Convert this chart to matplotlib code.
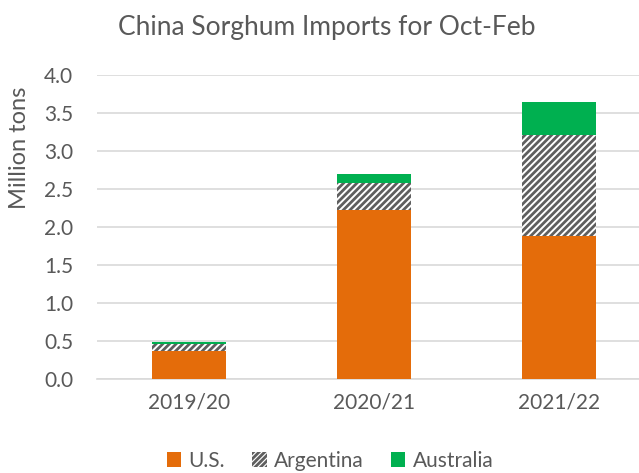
import numpy as np
import matplotlib
matplotlib.use("Agg")
import matplotlib.pyplot as plt
from matplotlib.patches import Patch

# data (million tons)
seasons = ["2019/20", "2020/21", "2021/22"]
us = [0.37, 2.23, 1.88]
argentina = [0.09, 0.35, 1.33]
australia = [0.03, 0.12, 0.43]

plt.rcParams["font.family"] = ["Lato", "DejaVu Sans"]
plt.rcParams["hatch.linewidth"] = 2.0
plt.rcParams["hatch.color"] = "#5f5f5f"

txt = "#595959"
orange = "#E46C0A"
green = "#00B050"

fig = plt.figure(figsize=(6.39, 4.73), dpi=100)
ax = fig.add_axes([97 / 639, 1 - 379 / 473, 554 / 639, 304 / 473])

x = np.arange(len(seasons))
w = 0.4
us = np.array(us)
arg = np.array(argentina)
aus = np.array(australia)

ax.bar(x, us, w, color=orange, zorder=3)
ax.bar(x, arg, w, bottom=us, color="white", hatch="/////", edgecolor="#5f5f5f",
       linewidth=0, zorder=3)
ax.bar(x, aus, w, bottom=us + arg, color=green, zorder=3)

ax.set_xlim(-0.5, 2.5)
ax.set_ylim(0, 4.0)
ax.set_yticks(np.arange(0, 4.01, 0.5))
ax.set_yticklabels([f"{v:.1f}" for v in np.arange(0, 4.01, 0.5)])
ax.set_xticks(x)
ax.set_xticklabels(seasons)

ax.grid(axis="y", color="#D9D9D9", linewidth=1.2, zorder=0)
for s in ["top", "right", "left"]:
    ax.spines[s].set_visible(False)
ax.spines["bottom"].set_color("#D9D9D9")
ax.spines["bottom"].set_linewidth(1.2)
ax.tick_params(axis="both", length=0, labelsize=15, colors=txt)
ax.tick_params(axis="y", pad=17)
ax.tick_params(axis="x", pad=10)

fig.text(327 / 639, 1 - 27 / 473, "China Sorghum Imports for Oct-Feb",
         ha="center", va="center", fontsize=19, color=txt)
fig.text(20 / 639, 1 - 148 / 473, "Million tons", rotation=90,
         ha="center", va="center", fontsize=17, color=txt)

handles = [Patch(facecolor=orange),
           Patch(facecolor="white", hatch="//////", edgecolor="#5f5f5f", linewidth=0),
           Patch(facecolor=green)]
fig.legend(handles, ["U.S.", "Argentina", "Australia"], loc="center",
           bbox_to_anchor=(330 / 639, 1 - 461 / 473), ncol=3, frameon=False,
           fontsize=15, labelcolor=txt, handlelength=0.7, handleheight=0.7,
           handletextpad=0.35, columnspacing=1.3)

fig.savefig("out.png", dpi=100)
